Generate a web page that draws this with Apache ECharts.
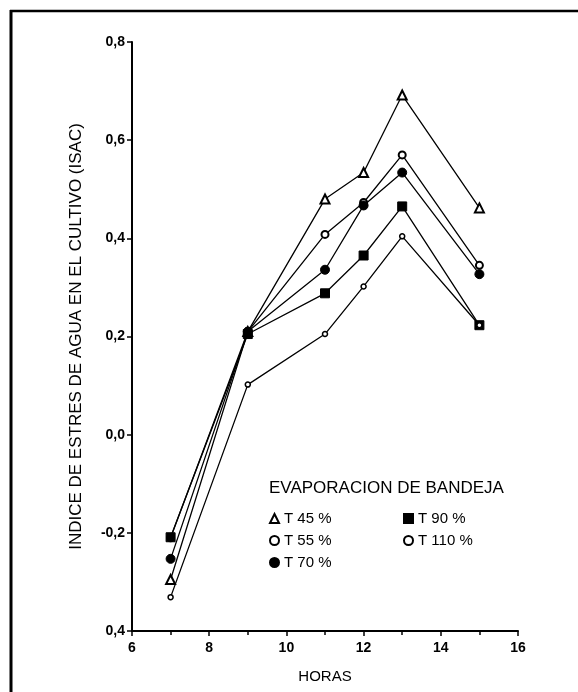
<!DOCTYPE html>
<html>
<head>
<meta charset="utf-8">
<script src="https://cdn.jsdelivr.net/npm/echarts@6/dist/echarts.min.js"></script>
<style>
html,body{margin:0;padding:0;background:#fff;}
#c{width:578px;height:692px;}
</style>
</head>
<body>
<div id="c"></div>
<script>
const hours = [7, 9, 11, 12, 13, 15];
const seriesNames = ['T 45 %', 'T 55 %', 'T 70 %', 'T 90 %', 'T 110 %'];
const t45 = [-0.295, 0.21, 0.48, 0.534, 0.692, 0.462];
const t55 = [-0.21, 0.21, 0.408, 0.473, 0.570, 0.345];
const t70 = [-0.253, 0.21, 0.336, 0.467, 0.534, 0.327];
const t90 = [-0.209, 0.205, 0.288, 0.365, 0.465, 0.223];
const t110 = [-0.331, 0.102, 0.205, 0.302, 0.404, 0.223];
const yTicks = {'-0.4':'0,4','-0.2':'-0,2','0':'0,0','0.2':'0,2','0.4':'0,4','0.6':'0,6','0.8':'0,8'};

const FONT = '"Liberation Sans", Arial, sans-serif';
const pair = arr => hours.map((h, i) => [h, arr[i]]);

function mk(name, data, symbol, size, filled, bw) {
  return {
    name: name, type: 'line', data: pair(data),
    symbol: symbol, symbolSize: size, showSymbol: true,
    lineStyle: {color: '#000', width: 1.3},
    itemStyle: {color: filled ? '#000' : '#fff', borderColor: '#000', borderWidth: bw},
    emphasis: {disabled: true},
    animation: false, z: 3
  };
}

const chart = echarts.init(document.getElementById('c'), null, {renderer: 'canvas'});
chart.setOption({
  animation: false,
  backgroundColor: '#fff',
  grid: {left: 132, right: 60, top: 42, bottom: 61},
  title: {
    text: 'EVAPORACION DE BANDEJA', left: 264, top: 475,
    textStyle: {fontFamily: FONT, fontSize: 17, fontWeight: 'normal', color: '#000'}
  },
  legend: [
    {
      data: [{name: 'T 45 %', icon: 'triangle'}, {name: 'T 55 %', icon: 'circle'}, {name: 'T 70 %', icon: 'circle'}],
      orient: 'vertical', left: 264, top: 506, itemWidth: 9, itemHeight: 9, itemGap: 7,
      textStyle: {fontFamily: FONT, fontSize: 15, color: '#000'}, selectedMode: false
    },
    {
      data: [{name: 'T 90 %', icon: 'rect'}, {name: 'T 110 %', icon: 'circle'}],
      orient: 'vertical', left: 398, top: 506, itemWidth: 9, itemHeight: 9, itemGap: 7,
      textStyle: {fontFamily: FONT, fontSize: 15, color: '#000'}, selectedMode: false
    }
  ],
  xAxis: {
    type: 'value', min: 6, max: 16, interval: 2,
    name: 'HORAS', nameLocation: 'middle', nameGap: 38,
    nameTextStyle: {fontFamily: FONT, fontSize: 15, color: '#000'},
    axisLine: {onZero: false, lineStyle: {color: '#000', width: 2}},
    axisTick: {show: true, inside: false, length: 5, lineStyle: {color: '#000', width: 1.5}},
    minorTick: {show: true, splitNumber: 2, length: 4, lineStyle: {color: '#000', width: 1.5}},
    splitLine: {show: false},
    axisLabel: {fontFamily: FONT, fontSize: 14, fontWeight: 'bold', color: '#000', margin: 10}
  },
  yAxis: {
    type: 'value', min: -0.4, max: 0.8, interval: 0.2,
    name: 'INDICE DE ESTRES DE AGUA EN EL CULTIVO (ISAC)', nameLocation: 'middle', nameGap: 47,
    nameTextStyle: {fontFamily: FONT, fontSize: 17, color: '#000'},
    axisLine: {show: true, onZero: false, lineStyle: {color: '#000', width: 2}},
    axisTick: {show: true, length: 5, lineStyle: {color: '#000', width: 1.5}},
    splitLine: {show: false},
    axisLabel: {
      fontFamily: FONT, fontSize: 14, fontWeight: 'bold', color: '#000', margin: 7,
      formatter: v => yTicks[String(Math.round(v * 10) / 10)] || ''
    }
  },
  graphic: [
    {type: 'line', shape: {x1: 10, y1: 11, x2: 578, y2: 11}, style: {stroke: '#000', lineWidth: 2.5}, silent: true},
    {type: 'line', shape: {x1: 11, y1: 10, x2: 11, y2: 692}, style: {stroke: '#000', lineWidth: 3}, silent: true}
  ],
  series: [
    mk(seriesNames[0], t45, 'triangle', 9, false, 2),
    mk(seriesNames[1], t55, 'circle', 7, false, 2),
    mk(seriesNames[2], t70, 'circle', 9, true, 1),
    mk(seriesNames[3], t90, 'rect', 9, true, 1),
    mk(seriesNames[4], t110, 'circle', 5, false, 1.5)
  ]
});
</script>
</body>
</html>
